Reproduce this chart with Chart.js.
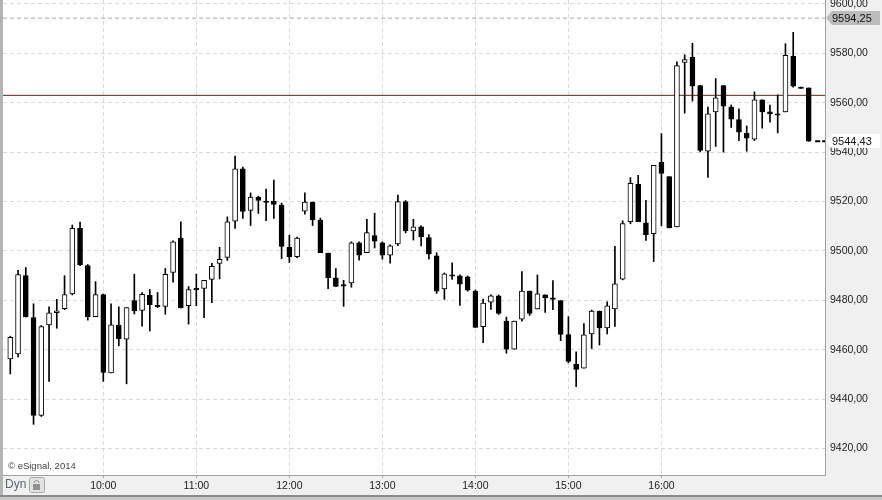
<!DOCTYPE html>
<html>
<head>
<meta charset="utf-8">
<script src="https://cdn.jsdelivr.net/npm/chart.js@4.4.1/dist/chart.umd.min.js"></script>
<style>
  html, body { margin: 0; padding: 0; background: #f0f0f0; }
  #wrap { width: 882px; height: 500px; position: relative; }
</style>
</head>
<body>
<div id="wrap"><canvas id="c"></canvas></div>
<script>
// 5分足 09:00 - 17:35
const times = [
  '09:00','09:05','09:10','09:15','09:20','09:25','09:30','09:35','09:40','09:45','09:50','09:55',
  '10:00','10:05','10:10','10:15','10:20','10:25','10:30','10:35','10:40','10:45','10:50','10:55',
  '11:00','11:05','11:10','11:15','11:20','11:25','11:30','11:35','11:40','11:45','11:50','11:55',
  '12:00','12:05','12:10','12:15','12:20','12:25','12:30','12:35','12:40','12:45','12:50','12:55',
  '13:00','13:05','13:10','13:15','13:20','13:25','13:30','13:35','13:40','13:45','13:50','13:55',
  '14:00','14:05','14:10','14:15','14:20','14:25','14:30','14:35','14:40','14:45','14:50','14:55',
  '15:00','15:05','15:10','15:15','15:20','15:25','15:30','15:35','15:40','15:45','15:50','15:55',
  '16:00','16:05','16:10','16:15','16:20','16:25','16:30','16:35','16:40','16:45','16:50','16:55',
  '17:00','17:05','17:10','17:15','17:20','17:25','17:30','17:35'
];

const opens = [
  9456.3, 9458.3, 9490.0, 9473.0, 9433.4, 9470.1, 9475.0, 9476.6, 9482.6, 9509.2, 9494.1, 9473.4,
  9482.3, 9450.6, 9470.0, 9464.3, 9479.9, 9475.9, 9482.0, 9478.0, 9477.5, 9491.3, 9505.2, 9477.9,
  9484.9, 9484.8, 9488.5, 9495.0, 9497.4, 9512.1, 9533.2, 9516.4, 9521.8, 9520.2, 9520.2, 9518.6,
  9501.5, 9497.7, 9516.1, 9519.8, 9512.5, 9499.1, 9489.1, 9486.4, 9487.1, 9503.3, 9499.3, 9506.2,
  9503.3, 9498.3, 9502.9, 9520.0, 9508.1, 9509.8, 9505.4, 9498.0, 9484.6, 9490.3, 9489.9, 9489.5,
  9483.8, 9469.3, 9479.3, 9481.8, 9471.6, 9460.2, 9472.4, 9483.8, 9476.5, 9482.2, 9481.0, 9479.9,
  9466.1, 9454.2, 9452.5, 9466.4, 9475.7, 9468.8, 9476.5, 9488.6, 9511.9, 9527.0, 9511.4, 9507.0,
  9535.9, 9530.1, 9509.7, 9576.3, 9578.4, 9567.0, 9540.4, 9556.3, 9567.0, 9558.3, 9553.2, 9547.7,
  9545.3, 9561.2, 9556.3, 9555.5, 9556.3, 9578.8, 9566.3, 9566.0
];
const highs = [
  9465.5, 9492.2, 9493.3, 9478.6, 9469.8, 9477.4, 9480.4, 9490.0, 9510.5, 9511.7, 9494.5, 9487.6,
  9482.6, 9478.6, 9477.4, 9477.1, 9490.6, 9483.2, 9484.4, 9483.2, 9492.9, 9504.1, 9511.8, 9485.6,
  9490.6, 9488.1, 9495.0, 9501.5, 9513.8, 9538.4, 9534.0, 9523.5, 9522.2, 9525.1, 9528.7, 9519.4,
  9506.4, 9505.6, 9523.5, 9519.8, 9513.3, 9499.1, 9492.9, 9488.1, 9503.7, 9503.7, 9512.8, 9515.3,
  9503.7, 9502.5, 9522.6, 9520.4, 9512.8, 9510.2, 9506.6, 9499.3, 9491.1, 9495.2, 9490.3, 9489.9,
  9484.2, 9480.5, 9482.2, 9482.2, 9473.2, 9471.6, 9491.7, 9483.8, 9490.3, 9482.2, 9488.0, 9479.9,
  9473.4, 9459.2, 9470.6, 9476.1, 9475.7, 9479.4, 9501.9, 9512.2, 9529.7, 9530.6, 9520.5, 9534.7,
  9547.5, 9530.1, 9576.6, 9579.4, 9584.1, 9567.0, 9558.3, 9569.8, 9567.0, 9559.1, 9557.5, 9550.6,
  9564.4, 9561.2, 9559.1, 9563.2, 9583.9, 9588.5, 9566.3, 9566.0
];
const lows = [
  9450.2, 9457.1, 9473.2, 9429.8, 9433.0, 9447.2, 9468.7, 9476.2, 9482.2, 9494.0, 9472.0, 9473.4,
  9447.2, 9450.6, 9461.6, 9446.2, 9474.5, 9469.6, 9467.6, 9477.1, 9474.4, 9487.4, 9476.9, 9470.4,
  9477.8, 9473.0, 9479.1, 9488.7, 9496.2, 9509.1, 9513.2, 9510.3, 9515.2, 9512.3, 9513.2, 9496.9,
  9495.3, 9497.3, 9514.9, 9510.3, 9499.3, 9484.7, 9485.5, 9477.6, 9485.3, 9496.3, 9499.3, 9501.2,
  9496.7, 9495.1, 9502.1, 9507.3, 9504.4, 9502.0, 9496.7, 9482.8, 9480.4, 9488.5, 9478.0, 9483.7,
  9469.0, 9462.9, 9476.3, 9474.3, 9458.6, 9460.2, 9471.6, 9473.9, 9476.5, 9475.1, 9476.2, 9463.7,
  9454.7, 9445.1, 9452.5, 9460.5, 9461.9, 9466.4, 9469.5, 9488.3, 9511.0, 9511.9, 9504.3, 9495.7,
  9510.2, 9509.3, 9509.7, 9555.8, 9560.7, 9540.1, 9529.8, 9542.3, 9540.0, 9550.0, 9544.7, 9540.4,
  9544.7, 9549.7, 9552.1, 9547.8, 9556.3, 9566.3, 9565.8, 9544.43
];
const closes = [
  9465.0, 9490.4, 9473.4, 9433.4, 9469.4, 9475.0, 9475.8, 9482.3, 9509.2, 9494.4, 9473.4, 9482.3,
  9450.8, 9470.1, 9464.5, 9477.1, 9475.7, 9482.4, 9478.3, 9477.4, 9490.5, 9503.7, 9476.9, 9484.4,
  9484.3, 9488.1, 9493.8, 9496.6, 9511.8, 9533.2, 9516.0, 9521.8, 9520.5, 9519.7, 9518.8, 9501.8,
  9497.7, 9505.2, 9519.8, 9512.7, 9499.3, 9489.2, 9485.6, 9485.7, 9503.3, 9498.3, 9507.4, 9504.0,
  9498.3, 9502.1, 9520.0, 9508.1, 9509.8, 9505.8, 9498.8, 9483.7, 9490.7, 9489.8, 9486.6, 9484.1,
  9469.0, 9478.9, 9481.8, 9474.7, 9460.2, 9471.6, 9483.8, 9474.7, 9482.6, 9481.0, 9480.4, 9466.2,
  9455.3, 9452.0, 9466.0, 9475.7, 9468.8, 9477.8, 9486.7, 9511.1, 9527.4, 9511.9, 9506.6, 9534.7,
  9531.4, 9509.3, 9575.1, 9577.5, 9566.8, 9540.7, 9555.5, 9562.0, 9558.6, 9553.4, 9548.1, 9545.7,
  9561.2, 9556.3, 9555.5, 9555.0, 9579.2, 9566.7, 9565.8, 9544.43
];

const hourTicks = ['10:00','11:00','12:00','13:00','14:00','15:00','16:00'];
const priceTicks = [9420, 9440, 9460, 9480, 9500, 9520, 9540, 9560, 9580, 9600];

const lastPrice = 9544.43;   // 現在値
const markPrice = 9594.25;   // 上の破線
const redLevel = 9563;       // 赤い水平線

// 表示範囲（インデックス / 価格）
const xMin = -0.94, xMax = 105.1;
const yMin = 9409.3, yMax = 9601.6;

const fmtPrice = v => Number(v).toFixed(2).replace('.', ',');
const FONT = '"Liberation Sans", Arial, sans-serif';

// 背景・枠・価格タグなど
const framePlugin = {
  id: 'frame',
  beforeDraw(chart) {
    const {ctx, chartArea: a, width, height} = chart;
    ctx.save();
    ctx.fillStyle = '#f0f0f0';
    ctx.fillRect(0, 0, width, height);
    ctx.fillStyle = '#ffffff';
    ctx.fillRect(a.left, a.top, a.right - a.left, a.bottom - a.top);
    ctx.restore();
  },
  afterDraw(chart) {
    const {ctx, chartArea: a, width} = chart;
    const ys = chart.scales.y;
    ctx.save();

    // 枠線
    ctx.fillStyle = '#a0a0a0';
    ctx.fillRect(a.right, 0, 1, a.bottom + 1);
    ctx.fillRect(a.left, a.bottom, a.right - a.left, 1);
    ctx.fillStyle = '#b4b4b4';
    ctx.fillRect(0, 0, a.left, 495);
    ctx.fillStyle = '#8a8a8a';
    ctx.fillRect(0, 495, width, 2);
    ctx.fillStyle = '#c8c8c8';
    ctx.fillRect(0, 497, width, 3);

    // コピーライト
    ctx.font = '9.5px ' + FONT;
    ctx.fillStyle = '#444';
    ctx.textBaseline = 'middle';
    ctx.textAlign = 'left';
    ctx.fillText('\u00a9 eSignal, 2014', 8, 466);

    // Dyn + 鍵アイコン
    ctx.font = '12px ' + FONT;
    ctx.fillStyle = '#5f6672';
    ctx.fillText('Dyn', 5, 485);
    ctx.fillStyle = '#e2e2e2';
    ctx.strokeStyle = '#a8a8a8';
    ctx.lineWidth = 1;
    ctx.beginPath();
    ctx.roundRect(29.5, 477.5, 15, 15, 2);
    ctx.fill();
    ctx.stroke();
    ctx.strokeStyle = '#909090';
    ctx.beginPath();
    ctx.arc(36.5, 483, 2.5, Math.PI, 0);
    ctx.stroke();
    ctx.fillStyle = '#909090';
    ctx.fillRect(33, 484, 7, 6);

    // 価格タグ
    const tag = (value, fill) => {
      const y = Math.round(ys.getPixelForValue(value));
      ctx.beginPath();
      ctx.moveTo(826, y);
      ctx.lineTo(832, y - 7);
      ctx.lineTo(880, y - 7);
      ctx.lineTo(880, y + 7);
      ctx.lineTo(832, y + 7);
      ctx.closePath();
      ctx.fillStyle = fill;
      ctx.fill();
      ctx.font = '11px ' + FONT;
      ctx.fillStyle = '#111';
      ctx.fillText(fmtPrice(value), 832, y + 0.5);
    };
    tag(markPrice, '#bcbcbc');
    tag(lastPrice, '#ffffff');

    ctx.restore();
  }
};

const idx = times.map((t, i) => i);
const flat = (v, x0, x1) => [{x: x0, y: v}, {x: x1, y: v}];

new Chart(document.getElementById('c'), {
  type: 'bar',
  data: {
    datasets: [
      {
        type: 'line',
        data: flat(markPrice, xMin, xMax),
        borderColor: '#a6a6a6',
        borderWidth: 1,
        borderDash: [4, 3],
        pointRadius: 0,
        order: 5
      },
      {
        type: 'line',
        data: flat(redLevel, xMin, xMax),
        borderColor: '#b80000',
        borderWidth: 1,
        pointRadius: 0,
        order: 4
      },
      {
        // ヒゲ
        data: idx.map(i => ({x: i, y: [lows[i], highs[i]]})),
        backgroundColor: '#000',
        borderWidth: 0,
        barThickness: 1,
        grouped: false,
        order: 3
      },
      {
        // 実体（陽線=白抜き, 陰線=黒）
        data: idx.map(i => ({x: i, y: [opens[i], closes[i]]})),
        backgroundColor: idx.map(i => closes[i] >= opens[i] ? '#fff' : '#000'),
        borderColor: '#000',
        borderWidth: 1,
        borderSkipped: false,
        barThickness: 5,
        minBarLength: 1,
        grouped: false,
        order: 2
      },
      {
        type: 'line',
        data: flat(lastPrice, 103.83, xMax),
        borderColor: '#000',
        borderWidth: 2,
        borderDash: [5, 2],
        pointRadius: 0,
        order: 1
      }
    ]
  },
  options: {
    responsive: true,
    maintainAspectRatio: false,
    animation: false,
    events: [],
    layout: { padding: { left: 3, top: 0, right: 0, bottom: 5 } },
    plugins: { legend: { display: false }, tooltip: { enabled: false } },
    scales: {
      x: {
        type: 'linear',
        min: xMin,
        max: xMax,
        offset: false,
        afterBuildTicks: s => { s.ticks = hourTicks.map(t => ({ value: times.indexOf(t) })); },
        afterFit: s => { s.height = 20; s.paddingLeft = 0; s.paddingRight = 0; },
        ticks: {
          autoSkip: false,
          maxRotation: 0,
          padding: 2,
          color: '#222',
          font: { family: FONT, size: 10.5 },
          callback: v => times[v]
        },
        grid: { offset: false, color: '#dadada', tickLength: 3, tickColor: '#a0a0a0' },
        border: { display: false, dash: [4, 3] }
      },
      y: {
        position: 'right',
        min: yMin,
        max: yMax,
        afterBuildTicks: s => { s.ticks = priceTicks.map(v => ({ value: v })); },
        afterFit: s => { s.width = 57; s.paddingTop = 0; s.paddingBottom = 0; },
        ticks: {
          padding: 5,
          color: '#222',
          font: { family: FONT, size: 10.5 },
          callback: v => fmtPrice(v)
        },
        grid: { color: '#dadada', drawTicks: false },
        border: { display: false, dash: [4, 3] }
      }
    }
  },
  plugins: [framePlugin]
});
</script>
</body>
</html>
